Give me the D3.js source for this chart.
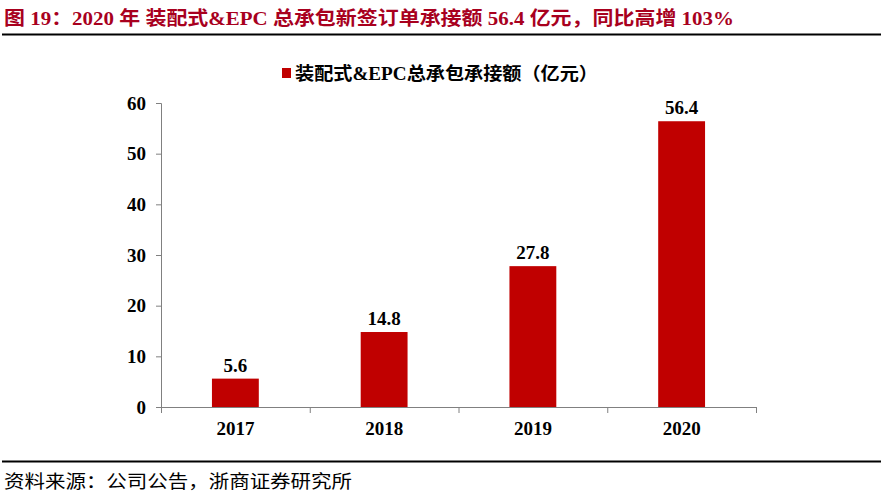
<!DOCTYPE html>
<html>
<head>
<meta charset="utf-8">
<script src="https://cdn.jsdelivr.net/npm/d3@7"></script>
<style>
  body { margin: 0; background: #fff; }
  svg text { font-family: "Liberation Serif", "Noto Sans CJK SC", serif; }
</style>
</head>
<body>
<script>
// Data
var years = ["2017", "2018", "2019", "2020"];
var values = [5.6, 14.8, 27.8, 56.4];
var yTicks = [0, 10, 20, 30, 40, 50, 60];
var seriesName = "装配式&EPC总承包承接额（亿元）";
var titleText = "图 19：2020 年 装配式&EPC 总承包新签订单承接额 56.4 亿元，同比高增 103%";
var sourceText = "资料来源：公司公告，浙商证券研究所";

var svgWidth = 883;
var svgHeight = 497;

var chartMargin = { top: 103, left: 161, right: 127, bottom: 90 };
var chartWidth = svgWidth - chartMargin.left - chartMargin.right;
var chartHeight = 407 - chartMargin.top;

var svg = d3.select("body")
  .append("svg")
  .attr("width", svgWidth)
  .attr("height", svgHeight);

// title and rules
svg.append("text")
  .attr("x", 4)
  .attr("y", 25)
  .attr("fill", "#a8001e")
  .attr("font-size", 19)
  .attr("font-weight", "bold")
  .attr("textLength", 730)
  .attr("lengthAdjust", "spacingAndGlyphs")
  .text(titleText);

svg.append("line")
  .attr("x1", 2).attr("x2", 881)
  .attr("y1", 34.5).attr("y2", 34.5)
  .attr("stroke", "#000").attr("stroke-width", 2);

svg.append("line")
  .attr("x1", 2).attr("x2", 881)
  .attr("y1", 461.5).attr("y2", 461.5)
  .attr("stroke", "#000").attr("stroke-width", 2);

svg.append("text")
  .attr("x", 4)
  .attr("y", 488)
  .attr("font-size", 18)
  .attr("fill", "#000")
  .attr("textLength", 348)
  .attr("lengthAdjust", "spacingAndGlyphs")
  .style("font-family", "'Noto Sans CJK SC', sans-serif")
  .text(sourceText);

// legend
svg.append("rect")
  .attr("x", 282).attr("y", 68)
  .attr("width", 9).attr("height", 10)
  .attr("fill", "#c00000");

svg.append("text")
  .attr("x", 295)
  .attr("y", 80)
  .attr("font-size", 18)
  .attr("font-weight", "bold")
  .attr("textLength", 303)
  .attr("lengthAdjust", "spacingAndGlyphs")
  .text(seriesName);

var chartGroup = svg.append("g")
  .attr("transform", `translate(${chartMargin.left}, ${chartMargin.top})`);

var xBand = d3.scaleBand()
  .domain(years)
  .range([0, chartWidth]);

var yLinearScale = d3.scaleLinear()
  .domain([0, 60])
  .range([chartHeight, 0]);

var barWidth = xBand.bandwidth() * 0.315;

// y axis
var leftAxis = d3.axisLeft(yLinearScale).tickValues(yTicks).tickSize(5).tickPadding(10);
var yAxisG = chartGroup.append("g")
  .attr("class", "leftAxis")
  .call(leftAxis);
yAxisG.select(".domain").attr("stroke", "#808080").attr("d", `M-5,0.5H0.5V${chartHeight + 6}`);
yAxisG.selectAll(".tick line").attr("stroke", "#808080");
yAxisG.selectAll(".tick text")
  .attr("font-size", 19)
  .attr("font-weight", "bold")
  .attr("fill", "#000")
  .style("font-family", "'Liberation Serif', serif");

// bars
chartGroup.selectAll(".bar")
  .data(values)
  .enter()
  .append("rect")
  .attr("class", "bar")
  .attr("x", (d, i) => xBand(years[i]) + (xBand.bandwidth() - barWidth) / 2)
  .attr("y", d => yLinearScale(d))
  .attr("width", barWidth)
  .attr("height", d => chartHeight - yLinearScale(d))
  .attr("fill", "#c00000");

// x axis
var bottomAxis = d3.axisBottom(xBand).tickSize(0).tickPadding(15);
var xAxisG = chartGroup.append("g")
  .attr("class", "bottomAxis")
  .attr("transform", `translate(0, ${chartHeight})`)
  .call(bottomAxis);
xAxisG.select(".domain").attr("stroke", "#808080").attr("d", `M0,0.5H${chartWidth}`);
xAxisG.selectAll(".tick text")
  .attr("font-size", 19)
  .attr("font-weight", "bold")
  .attr("fill", "#000")
  .style("font-family", "'Liberation Serif', serif");

// band separators
chartGroup.selectAll(".sep")
  .data(years)
  .enter()
  .append("line")
  .attr("class", "sep")
  .attr("x1", d => xBand(d) + xBand.bandwidth() + 0.5)
  .attr("x2", d => xBand(d) + xBand.bandwidth() + 0.5)
  .attr("y1", chartHeight)
  .attr("y2", chartHeight + 6)
  .attr("stroke", "#808080");

// value labels
chartGroup.selectAll(".marker")
  .data(values)
  .enter()
  .append("text")
  .attr("class", "marker")
  .attr("x", (d, i) => xBand(years[i]) + xBand.bandwidth() / 2)
  .attr("y", d => yLinearScale(d) - 7)
  .attr("text-anchor", "middle")
  .attr("font-size", 19)
  .attr("font-weight", "bold")
  .text(d => d.toFixed(1));
</script>
</body>
</html>
